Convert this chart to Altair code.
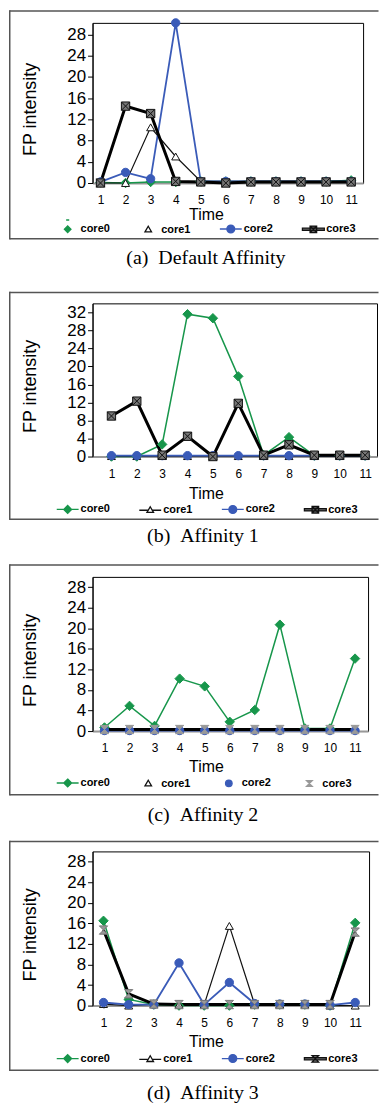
import altair as alt
import pandas as pd

TIME = [1, 2, 3, 4, 5, 6, 7, 8, 9, 10, 11]
SERIES = ["core0", "core1", "core2", "core3"]

# (a) Default Affinity
A_CORE0 = [0.1, 0.0, 0.2, 0.2, 0.3, 0.3, 0.3, 0.3, 0.3, 0.3, 0.5]
A_CORE1 = [0.0, 0.0, 10.5, 5.0, 0.3, 0.3, 0.3, 0.3, 0.3, 0.3, 0.3]
A_CORE2 = [0.2, 2.0, 0.8, 30.2, 0.3, 0.3, 0.3, 0.3, 0.3, 0.3, 0.3]
A_CORE3 = [0.0, 14.5, 13.1, 0.3, 0.2, 0.0, 0.2, 0.2, 0.2, 0.2, 0.2]

# (b) Affinity 1
B_CORE0 = [0.0, 0.0, 2.7, 31.6, 30.7, 17.8, 0.3, 4.3, 0.2, 0.2, 0.2]
B_CORE1 = [0.1, 0.1, 0.1, 0.1, 0.1, 0.1, 0.1, 0.1, 0.1, 0.1, 0.1]
B_CORE2 = [0.2, 0.2, 0.2, 0.2, 0.2, 0.2, 0.2, 0.2, 0.2, 0.2, 0.2]
B_CORE3 = [9.0, 12.3, 0.3, 4.5, 0.0, 11.8, 0.3, 2.6, 0.3, 0.3, 0.3]

# (c) Affinity 2
C_CORE0 = [0.7, 4.9, 1.0, 10.2, 8.7, 1.8, 4.1, 20.7, 0.5, 0.5, 14.1]
C_CORE1 = [0.4, 0.4, 0.4, 0.4, 0.4, 0.4, 0.4, 0.4, 0.4, 0.4, 0.4]
C_CORE2 = [0.1, 0.1, 0.1, 0.1, 0.1, 0.1, 0.1, 0.1, 0.1, 0.1, 0.1]
C_CORE3 = [0.3, 0.3, 0.3, 0.3, 0.3, 0.3, 0.3, 0.3, 0.3, 0.3, 0.3]

# (d) Affinity 3
D_CORE0 = [16.5, 1.2, 0.2, 0.0, 0.0, 0.0, 0.2, 0.2, 0.2, 0.0, 16.1]
D_CORE1 = [0.3, 0.0, 0.3, 0.2, 0.2, 15.5, 0.3, 0.2, 0.2, 0.0, 0.0]
D_CORE2 = [0.6, 0.2, 0.2, 8.3, 0.2, 4.5, 0.4, 0.3, 0.3, 0.1, 0.6]
D_CORE3 = [14.7, 2.3, 0.3, 0.2, 0.2, 0.2, 0.2, 0.2, 0.2, 0.2, 14.3]

CAPTIONS = ["(a)\u00a0\u00a0Default Affinity", "(b)\u00a0\u00a0Affinity 1",
            "(c)\u00a0\u00a0Affinity 2", "(d)\u00a0\u00a0Affinity 3"]

GREEN = "#17964b"
BLUE = "#3a5bb8"
BLACK = "#111111"
FRAME = "#555555"
SANS = "Liberation Sans, Arial, sans-serif"
SERIF = "Liberation Serif, Times New Roman, serif"

LINE_COLORS = [GREEN, BLACK, BLUE, "#000000"]
LINE_WIDTHS = [1.5, 1.2, 1.8, 3.0]
POINT_SIZES = [90, 64, 70, 70]

DIAMOND = "M0,-1L1,0L0,1L-1,0Z"
TRI = "triangle-up"
CIRC = "circle"
SQX = "M-1,-1H1V1H-1ZM-1,-1L1,1M1,-1L-1,1"
HOUR = "M-1,-1H1L-1,1H1Z"

L_DIA_LINE = "M-1,0H1M0,-0.36L0.36,0L0,0.36L-0.36,0Z"
L_DIA_ONLY = "M0,-0.3L0.3,0L0,0.3L-0.3,0ZM-0.14,-0.85H0.14"
L_TRI_LINE = "M-1,0H-0.19M0.19,0H1M0,-0.32L0.3,0.2L-0.3,0.2Z"
L_TRI_ONLY = "M0,-0.32L0.3,0.2L-0.3,0.2Z"
L_CIRC_LINE = "M-1,0H1M-0.36,0A0.36,0.36,0,1,0,0.36,0A0.36,0.36,0,1,0,-0.36,0Z"
L_CIRC_ONLY = "M-0.3,0A0.3,0.3,0,1,0,0.3,0A0.3,0.3,0,1,0,-0.3,0Z"
L_SQX_BAR = "M-1,-0.1H1V0.1H-1ZM-0.3,-0.3H0.3V0.3H-0.3ZM-0.3,-0.3L0.3,0.3M0.3,-0.3L-0.3,0.3"
L_HOUR_ONLY = "M-0.26,-0.26H0.26L-0.26,0.26H0.26Z"
L_HOUR_BAR = "M-1,-0.1H1V0.1H-1ZM-0.3,-0.3H0.3L-0.3,0.3H0.3Z"


def long_df(cols):
    rows = []
    for s, vals in zip(SERIES, cols):
        for t, v in zip(TIME, vals):
            rows.append({"time": t, "series": s, "value": v})
    return pd.DataFrame(rows)


def ordinal(rng):
    return alt.Scale(type="ordinal", domain=SERIES, range=rng)


def panel(cols, caption, width, height, ymax, yticks, xdom, time_y, leg_y,
          f_top, f_bot, t_off, t_dx, p_shapes, p_fills, p_strokes,
          l_shapes, l_fills, l_strokes):
    df = long_df(cols)
    x_axis = alt.Axis(values=TIME, title="Time", grid=False, labelFontSize=12,
                      labelPadding=9, tickSize=3, tickColor="#999999",
                      domainColor="#999999", domainWidth=2, titleFontSize=16,
                      titleFontWeight="normal", titleX=114, titleY=time_y,
                      labelColor="#000000", titleColor="#000000", labelFlush=False)
    y_axis = alt.Axis(values=yticks, title="FP intensity", grid=False,
                      labelFontSize=17, labelPadding=2, tickSize=5,
                      tickColor="#000000", domainColor="#000000",
                      titleFontSize=18, titleFontWeight="normal",
                      titleX=-53, titleY=height / 2 + 6,
                      labelColor="#000000", titleColor="#000000")
    x = alt.X("time:Q", scale=alt.Scale(domain=xdom, nice=False, zero=False), axis=x_axis)
    y = alt.Y("value:Q", scale=alt.Scale(domain=[0, ymax], nice=False), axis=y_axis)

    base = alt.Chart(df)
    lines = base.mark_line().encode(
        x=x, y=y,
        color=alt.Color("series:N", scale=ordinal(LINE_COLORS), legend=None),
        strokeWidth=alt.StrokeWidth("series:N", scale=ordinal(LINE_WIDTHS), legend=None),
        order="time:Q",
    )
    points = base.mark_point(filled=True, opacity=1, strokeWidth=1).encode(
        x=x, y=y,
        color=alt.Color("series:N", scale=ordinal(p_fills), legend=None),
        stroke=alt.Stroke("series:N", scale=ordinal(p_strokes), legend=None),
        shape=alt.Shape("series:N", scale=ordinal(p_shapes), legend=None),
        size=alt.Size("series:N", scale=ordinal(POINT_SIZES), legend=None),
    )
    leg = alt.Legend(orient="none", legendX=-37, legendY=height + leg_y,
                     direction="horizontal", title=None, symbolSize=484,
                     symbolStrokeWidth=1.3, symbolOpacity=1, labelFont=SANS,
                     labelFontSize=11, labelFontWeight="bold", labelColor="#000000",
                     labelOffset=1, columnPadding=26, padding=0)
    legend_layer = alt.Chart(pd.DataFrame({"entry": SERIES})).transform_filter("false").mark_point(
        filled=True, opacity=1).encode(
        color=alt.Color("entry:N", scale=ordinal(l_fills), legend=leg),
        stroke=alt.Stroke("entry:N", scale=ordinal(l_strokes), legend=leg),
        shape=alt.Shape("entry:N", scale=ordinal(l_shapes), legend=leg),
    )
    one = alt.Chart(pd.DataFrame({"k": [0]}))
    fx1, fx2 = -83.25, 287.5
    top = one.mark_rule(color=FRAME, strokeWidth=1.5).encode(
        x=alt.value(fx1), x2=alt.value(fx2), y=alt.value(-f_top))
    bottom = one.mark_rule(color=FRAME, strokeWidth=1.5).encode(
        x=alt.value(fx1), x2=alt.value(fx2), y=alt.value(height + f_bot))
    left = one.mark_rule(color=FRAME, strokeWidth=1.5).encode(
        x=alt.value(fx1), y=alt.value(-f_top - 0.75), y2=alt.value(height + f_bot + 0.75))

    return alt.layer(top, bottom, left, lines, points, legend_layer).resolve_scale(
        color="independent", stroke="independent", shape="independent",
        size="independent", strokeWidth="independent",
    ).properties(
        width=width, height=height,
        title=alt.Title(caption, orient="bottom", anchor="middle", font=SERIF,
                        fontSize=20, fontWeight="normal", color="#000000",
                        offset=t_off, dx=t_dx),
    )


TICKS28 = [0, 4, 8, 12, 16, 20, 24, 28]
TICKS32 = [0, 4, 8, 12, 16, 20, 24, 28, 32]

pa = panel([A_CORE0, A_CORE1, A_CORE2, A_CORE3], CAPTIONS[0], 272, 161, 30.2, TICKS28,
           [0.683, 11.476], 24, 34, 12, 56, 8, -22,
           [DIAMOND, TRI, CIRC, SQX], [GREEN, "#ffffff", BLUE, "#777777"],
           [GREEN, BLACK, BLUE, BLACK],
           [L_DIA_ONLY, L_TRI_ONLY, L_CIRC_LINE, L_SQX_BAR],
           [GREEN, "#ffffff", BLUE, "#666666"], [GREEN, BLACK, BLUE, BLACK])
pb = panel([B_CORE0, B_CORE1, B_CORE2, B_CORE3], CAPTIONS[1], 286, 154, 34, TICKS32,
           [0.255, 11.47], 29, 41, 11, 63, 5, -32,
           [DIAMOND, TRI, CIRC, SQX], [GREEN, "#ffffff", BLUE, "#777777"],
           [GREEN, BLACK, BLUE, BLACK],
           [L_DIA_LINE, L_TRI_LINE, L_CIRC_LINE, L_SQX_BAR],
           [GREEN, "#ffffff", BLUE, "#666666"], [GREEN, BLACK, BLUE, BLACK])
pc = panel([C_CORE0, C_CORE1, C_CORE2, C_CORE3], CAPTIONS[2], 277, 155, 30, TICKS28,
           [0.524, 11.52], 28, 40, 12, 64, 9, -27.5,
           [DIAMOND, TRI, CIRC, HOUR], [GREEN, "#cccccc", BLUE, "#999999"],
           [GREEN, "#888888", BLUE, "#999999"],
           [L_DIA_LINE, L_TRI_ONLY, L_CIRC_ONLY, L_HOUR_ONLY],
           [GREEN, "#ffffff", BLUE, "#999999"], [GREEN, BLACK, BLUE, "#999999"])
pd_ = panel([D_CORE0, D_CORE1, D_CORE2, D_CORE3], CAPTIONS[3], 278, 155, 30, TICKS28,
            [0.565, 11.55], 28, 41, 10, 65, 11, -28,
            [DIAMOND, TRI, CIRC, HOUR], [GREEN, "#ffffff", BLUE, "#999999"],
            [GREEN, BLACK, BLUE, "#777777"],
            [L_DIA_LINE, L_TRI_LINE, L_CIRC_LINE, L_HOUR_BAR],
            [GREEN, "#ffffff", BLUE, "#888888"], [GREEN, BLACK, BLUE, BLACK])

chart = alt.vconcat(pa, pb, pc, pd_, spacing=121, bounds="flush").properties(
    padding={"top": -2, "left": 0, "right": 0, "bottom": 0},
    background="#ffffff",
).configure_view(
    stroke="#000000", strokeWidth=1, fill=None
).configure_axis(
    labelFont=SANS, titleFont=SANS
)

chart.save("out.html", embed_options={"renderer": "svg", "actions": False})
